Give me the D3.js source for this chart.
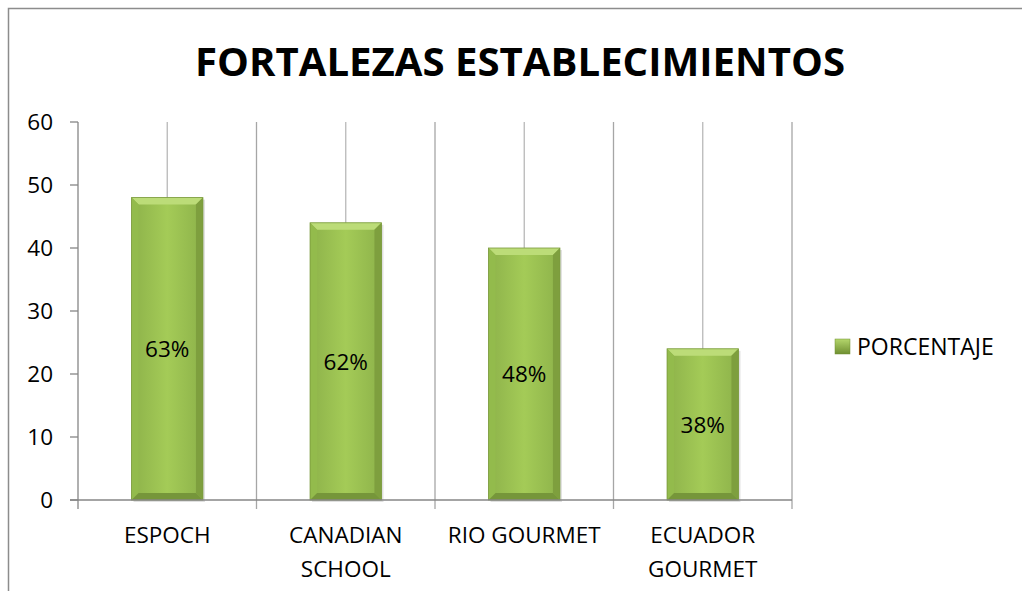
<!DOCTYPE html>
<html><head><meta charset="utf-8">
<script src="https://cdn.jsdelivr.net/npm/d3@7"></script>
<style>body{margin:0;background:#fff}svg{display:block}text{font-family:"Open Sans","Noto Sans",sans-serif}</style>
</head><body>
<svg id="c" width="1022" height="591"></svg>
<script>
const title = "FORTALEZAS ESTABLECIMIENTOS";
const categories = [["ESPOCH"],["CANADIAN","SCHOOL"],["RIO GOURMET"],["ECUADOR","GOURMET"]];
const values = [48, 44, 40, 24];
const labels = ["63%","62%","48%","38%"];
const seriesName = "PORCENTAJE";
const yTicks = [0,10,20,30,40,50,60];

const svg = d3.select("#c");
const defs = svg.append("defs");
const g1 = defs.append("linearGradient").attr("id","bar").attr("x1","0").attr("x2","1").attr("y1","0").attr("y2","0");
g1.append("stop").attr("offset","0").attr("stop-color","#8db24a");
g1.append("stop").attr("offset","0.5").attr("stop-color","#a4cb57");
g1.append("stop").attr("offset","1").attr("stop-color","#8db24a");
const g2 = defs.append("linearGradient").attr("id","leg").attr("x1","0").attr("x2","0").attr("y1","0").attr("y2","1");
g2.append("stop").attr("offset","0").attr("stop-color","#b4d66c");
g2.append("stop").attr("offset","1").attr("stop-color","#6f8f31");

// frame
svg.append("rect").attr("x",8.5).attr("y",8.5).attr("width",1020).attr("height",600)
  .attr("fill","none").attr("stroke","#8c8c8c").attr("stroke-width",1.5);

svg.append("text").attr("x",520).attr("y",76).attr("text-anchor","middle")
  .attr("font-size",40).attr("font-weight","bold").attr("fill","#000")
  .attr("textLength",650).attr("lengthAdjust","spacingAndGlyphs").text(title);

const x = d3.scaleBand().domain(d3.range(categories.length)).range([78,792]).paddingInner(0).paddingOuter(0);
const y = d3.scaleLinear().domain([0,60]).range([500,122]);
const bw = x.bandwidth()*0.4;

const grid = svg.append("g").attr("stroke","#a6a6a6").attr("stroke-width",1.3);
d3.range(1,categories.length+1).forEach(i=>{
  const xx = 78 + i*x.bandwidth();
  grid.append("line").attr("x1",xx).attr("x2",xx).attr("y1",y(60)).attr("y2",509);
});
categories.forEach((c,i)=>{
  const xx = x(i)+x.bandwidth()/2;
  grid.append("line").attr("x1",xx).attr("x2",xx).attr("y1",y(60)).attr("y2",y(0)).attr("stroke","#b8b8b8");
});

const bars = svg.append("g");
values.forEach((v,i)=>{
  const cx = x(i)+x.bandwidth()/2, x0 = cx-bw/2, x1 = cx+bw/2, yt = y(v), yb = y(0), b = 7;
  bars.append("rect").attr("x",x0+2).attr("y",yt+2).attr("width",bw).attr("height",yb-yt).attr("fill","#000").attr("opacity",0.12);
  bars.append("rect").attr("x",x0).attr("y",yt).attr("width",bw).attr("height",yb-yt).attr("fill","url(#bar)");
  bars.append("polygon").attr("points",[[x0,yt],[x1,yt],[x1-b,yt+b],[x0+b,yt+b]].join(" ")).attr("fill","#bcdc78");
  bars.append("polygon").attr("points",[[x0,yt],[x0+b,yt+b],[x0+b,yb-b],[x0,yb]].join(" ")).attr("fill","#93bb4c");
  bars.append("polygon").attr("points",[[x1,yt],[x1-b,yt+b],[x1-b,yb-b],[x1,yb]].join(" ")).attr("fill","#7e9f3e");
  bars.append("polygon").attr("points",[[x0,yb],[x0+b,yb-b],[x1-b,yb-b],[x1,yb]].join(" ")).attr("fill","#76963a");
  bars.append("rect").attr("x",x0).attr("y",yt).attr("width",bw).attr("height",yb-yt).attr("fill","none").attr("stroke","#7a9a3c").attr("stroke-width",0.8);
  bars.append("text").attr("x",cx).attr("y",(yt+yb)/2).attr("dy","0.36em").attr("text-anchor","middle")
    .attr("font-size",22.5).attr("fill","#000").text(labels[i]);
});

const ax = svg.append("g").attr("stroke","#868686").attr("stroke-width",1.3);
ax.append("line").attr("x1",78).attr("x2",78).attr("y1",y(60)).attr("y2",509);
ax.append("line").attr("x1",70).attr("x2",792).attr("y1",y(0)).attr("y2",y(0));
yTicks.forEach(t=>{
  ax.append("line").attr("x1",70).attr("x2",78).attr("y1",y(t)).attr("y2",y(t));
  svg.append("text").attr("x",53).attr("y",y(t)).attr("dy","0.36em").attr("text-anchor","end")
    .attr("font-size",22.5).attr("fill","#000").text(t);
});
categories.forEach((c,i)=>{
  const cx = x(i)+x.bandwidth()/2;
  const t = svg.append("text").attr("text-anchor","middle").attr("font-size",22.5).attr("fill","#000");
  c.forEach((line,k)=>t.append("tspan").attr("x",cx).attr("y",543+k*34).text(line));
});

svg.append("rect").attr("x",835).attr("y",339).attr("width",15).attr("height",15).attr("fill","url(#leg)").attr("stroke","#6f8f31").attr("stroke-width",0.5);
svg.append("text").attr("x",857).attr("y",347).attr("dy","0.36em").attr("font-size",23).attr("fill","#000").text(seriesName);
</script>
</body></html>
